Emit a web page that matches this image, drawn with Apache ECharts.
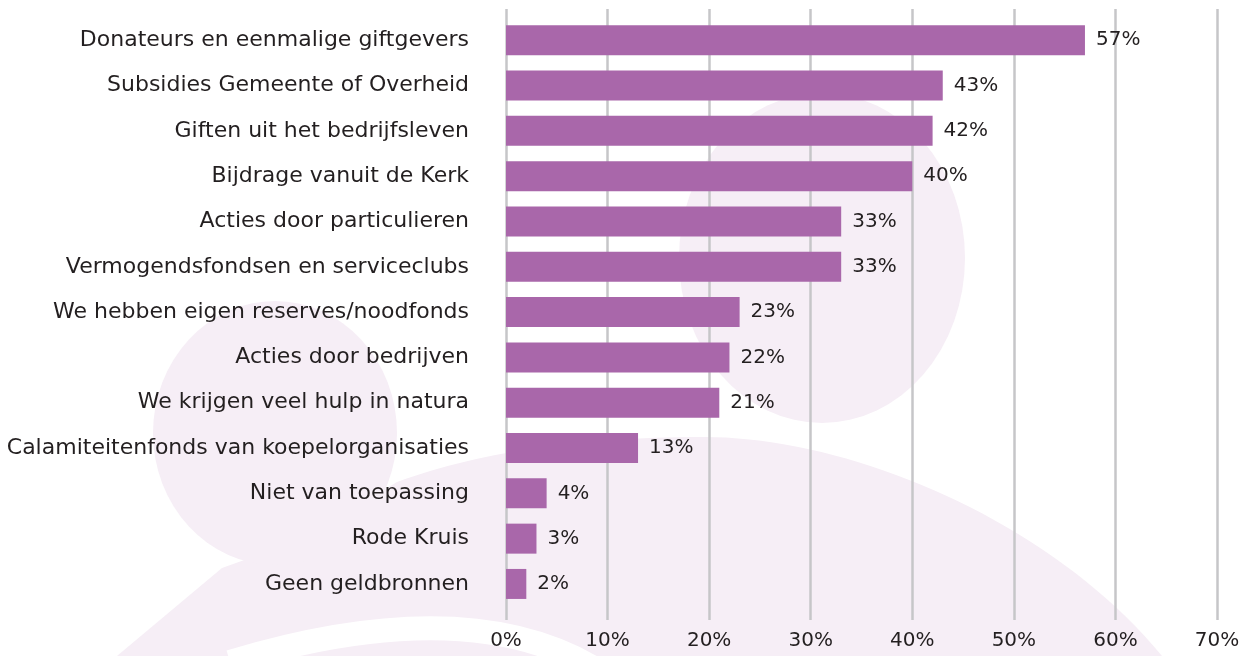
<!DOCTYPE html>
<html>
<head>
<meta charset="utf-8">
<script src="https://cdn.jsdelivr.net/npm/echarts@6/dist/echarts.min.js"></script>
<style>
html,body{margin:0;padding:0;background:#fff;}
#chart{width:1254px;height:656px;}
</style>
</head>
<body>
<div id="chart"></div>
<script>
const categories = [
  'Donateurs en eenmalige giftgevers',
  'Subsidies Gemeente of Overheid',
  'Giften uit het bedrijfsleven',
  'Bijdrage vanuit de Kerk',
  'Acties door particulieren',
  'Vermogendsfondsen en serviceclubs',
  'We hebben eigen reserves/noodfonds',
  'Acties door bedrijven',
  'We krijgen veel hulp in natura',
  'Calamiteitenfonds van koepelorganisaties',
  'Niet van toepassing',
  'Rode Kruis',
  'Geen geldbronnen'
];
const values = [57, 43, 42, 40, 33, 33, 23, 22, 21, 13, 4, 3, 2];
const axisMin = 0, axisMax = 70, axisStep = 10;

const FONT = 'DejaVu Sans';
const CAT_FONT = 'DejaVu Sans';
const TXT = '#231f20';
const PINK = '#f6eef6';

// decorative background outline (pixel space)
function quad(p0, p1, p2, n) {
  const out = [];
  for (let i = 1; i <= n; i++) {
    const t = i / n, u = 1 - t;
    out.push([u*u*p0[0] + 2*u*t*p1[0] + t*t*p2[0], u*u*p0[1] + 2*u*t*p1[1] + t*t*p2[1]]);
  }
  return out;
}
function cubic(p0, p1, p2, p3, n) {
  const out = [];
  for (let i = 1; i <= n; i++) {
    const t = i / n, u = 1 - t;
    out.push([
      u*u*u*p0[0] + 3*u*u*t*p1[0] + 3*u*t*t*p2[0] + t*t*t*p3[0],
      u*u*u*p0[1] + 3*u*u*t*p1[1] + 3*u*t*t*p2[1] + t*t*t*p3[1]
    ]);
  }
  return out;
}
const bodyPts = [[117,656],[222,568],[300,540],[397,482]]
  .concat(quad([397,482],[520,437],[704,437],30))
  .concat(cubic([704,437],[850,437],[1050,520],[1162,656],40));

const chart = echarts.init(document.getElementById('chart'), null, {renderer: 'canvas'});
chart.setOption({
  animation: false,
  backgroundColor: '#ffffff',
  graphic: [
    {type: 'polygon', z: -10, shape: {points: bodyPts}, style: {fill: PINK}},
    {type: 'circle', z: -10, x: 822, y: 258, scaleX: 143/165, scaleY: 1, shape: {cx: 0, cy: 0, r: 165}, style: {fill: PINK}},
    {type: 'circle', z: -10, x: 275, y: 433, scaleX: 122/132, scaleY: 1, shape: {cx: 0, cy: 0, r: 132}, style: {fill: PINK}},
    {type: 'bezierCurve', z: -9, shape: {x1: 230, y1: 662, cpx1: 470, cpy1: 590, x2: 600, y2: 672}, style: {fill: null, stroke: '#ffffff', lineWidth: 24}}
  ],
  grid: [
    {left: 506, right: 37, top: 17.6, bottom: 49.4},
    {left: 506, right: 37, top: 9, bottom: 36}
  ],
  xAxis: [
    {type: 'value', gridIndex: 0, min: axisMin, max: axisMax, interval: axisStep,
     axisLabel: {show: false}, splitLine: {show: false}, axisLine: {show: false}, axisTick: {show: false}},
    {type: 'value', gridIndex: 1, min: axisMin, max: axisMax, interval: axisStep,
     axisLabel: {formatter: '{value}%', fontFamily: FONT, fontSize: 20, color: TXT, margin: 11},
     splitLine: {show: true, lineStyle: {color: '#c6c6c8', width: 2.5}},
     axisLine: {show: false}, axisTick: {show: false}}
  ],
  yAxis: [
    {type: 'category', gridIndex: 0, data: categories, inverse: true,
     axisLine: {show: false}, axisTick: {show: false},
     axisLabel: {fontFamily: CAT_FONT, fontSize: 22, color: TXT, margin: 37}},
    {type: 'category', gridIndex: 1, data: [], show: false}
  ],
  series: [
    {type: 'bar', xAxisIndex: 0, yAxisIndex: 0, data: values, barWidth: 30,
     itemStyle: {color: '#a967aa'},
     label: {show: true, position: 'right', distance: 11, formatter: '{c}%',
             fontFamily: FONT, fontSize: 20, color: TXT}}
  ]
});
</script>
</body>
</html>
